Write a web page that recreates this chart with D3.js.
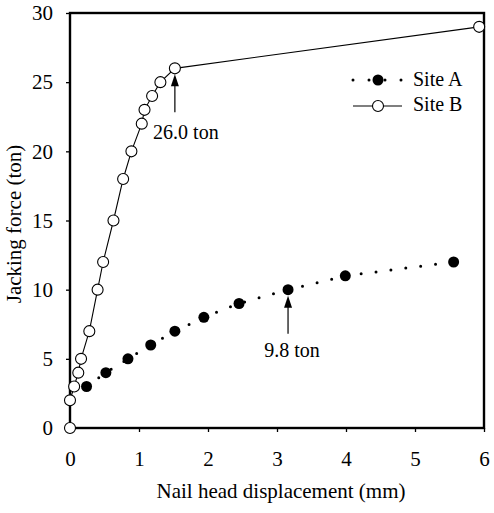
<!DOCTYPE html>
<html><head><meta charset="utf-8">
<script src="https://cdn.jsdelivr.net/npm/d3@7"></script>
<style>body{margin:0;background:#fff}svg text{font-family:"Liberation Serif","Times New Roman",serif;fill:#000}</style>
</head><body><svg id="c" width="494" height="513"></svg>
<script>
const siteA_x = [0.24, 0.52, 0.84, 1.17, 1.52, 1.94, 2.45, 3.16, 3.99, 5.56];
const siteA_y = [3, 4, 5, 6, 7, 8, 9, 10, 11, 12];
const siteB_x = [0, 0, 0.06, 0.12, 0.16, 0.28, 0.40, 0.48, 0.63, 0.77, 0.89, 1.04, 1.08, 1.19, 1.31, 1.52, 5.93];
const siteB_y = [0, 2, 3, 4, 5, 7, 10, 12, 15, 18, 20, 22, 23, 24, 25, 26, 29];
const xTicks = [0, 1, 2, 3, 4, 5, 6];
const yTicks = [0, 5, 10, 15, 20, 25, 30];
const annotations = [{x: 1.52, y: 26, label: "26.0 ton", dx: 11, dy: 71}, {x: 3.16, y: 10, label: "9.8 ton", dx: 4, dy: 67}];

const FONT = '"Liberation Serif","Times New Roman",serif';
const svg = d3.select("#c");
const L = 70, R = 484, T = 13, B = 428;
const x = d3.scaleLinear().domain([0, 6]).range([L, R]);
const y = d3.scaleLinear().domain([0, 30]).range([B, T]);

// axes
svg.append("g").attr("transform", `translate(0,${B})`)
  .call(d3.axisBottom(x).tickValues(xTicks).tickSize(4).tickPadding(19).tickFormat(d3.format("d")))
  .call(g => { g.select(".domain").remove(); g.selectAll("line").attr("stroke-width", 1.3);
               g.selectAll("text").attr("font-size", 21).attr("font-family", FONT); });
svg.append("g").attr("transform", `translate(${L},0)`)
  .call(d3.axisLeft(y).tickValues(yTicks).tickSize(4).tickPadding(13).tickFormat(d3.format("d")))
  .call(g => { g.select(".domain").remove(); g.selectAll("line").attr("stroke-width", 1.3);
               g.selectAll("text").attr("font-size", 21).attr("font-family", FONT); });

// frame
svg.append("rect").attr("x", L).attr("y", T).attr("width", R - L).attr("height", B - T)
  .attr("fill", "none").attr("stroke", "#000").attr("stroke-width", 2.4);

// titles
svg.append("text").attr("x", 281).attr("y", 498).attr("text-anchor", "middle")
  .attr("font-size", 21).attr("font-family", FONT).text("Nail head displacement (mm)");
svg.append("text").attr("transform", `translate(21,224) rotate(-90)`).attr("text-anchor", "middle")
  .attr("font-size", 21).attr("font-family", FONT).text("Jacking force (ton)");

const dataA = siteA_x.map((v, i) => [v, siteA_y[i]]);
const dataB = siteB_x.map((v, i) => [v, siteB_y[i]]);
const line = d3.line().x(d => x(d[0])).y(d => y(d[1]));

// Site A dotted
svg.append("path").datum(dataA).attr("d", line).attr("fill", "none").attr("stroke", "#000")
  .attr("stroke-width", 3).attr("stroke-linecap", "round").attr("stroke-dasharray", "0 15");
svg.append("g").selectAll("circle").data(dataA).join("circle")
  .attr("cx", d => x(d[0])).attr("cy", d => y(d[1])).attr("r", 5.5).attr("fill", "#000");

// Site B
svg.append("path").datum(dataB).attr("d", line).attr("fill", "none").attr("stroke", "#000").attr("stroke-width", 1.1);
svg.append("g").selectAll("circle").data(dataB).join("circle")
  .attr("cx", d => x(d[0])).attr("cy", d => y(d[1])).attr("r", 5.5).attr("fill", "#fff")
  .attr("stroke", "#000").attr("stroke-width", 1.1);

// annotations
const ann = svg.append("g");
annotations.forEach(a => {
  const ax = x(a.x), ay = y(a.y);
  ann.append("line").attr("x1", ax).attr("x2", ax).attr("y1", ay + 17).attr("y2", ay + 44)
    .attr("stroke", "#000").attr("stroke-width", 1.2);
  ann.append("path").attr("d", `M${ax},${ay + 6}L${ax - 4},${ay + 18}L${ax + 4},${ay + 18}Z`).attr("fill", "#000");
  ann.append("text").attr("x", ax + a.dx).attr("y", ay + a.dy).attr("text-anchor", "middle")
    .attr("font-size", 20).attr("font-family", FONT).text(a.label);
});

// legend
const lg = svg.append("g");
lg.append("line").attr("x1", 353).attr("x2", 402).attr("y1", 80).attr("y2", 80).attr("stroke", "#000")
  .attr("stroke-width", 3).attr("stroke-linecap", "round").attr("stroke-dasharray", "0 16");
lg.append("circle").attr("cx", 378).attr("cy", 80).attr("r", 5.5).attr("fill", "#000");
lg.append("text").attr("x", 413).attr("y", 86).attr("font-size", 20).attr("font-family", FONT).text("Site A");
lg.append("line").attr("x1", 353).attr("x2", 402).attr("y1", 106).attr("y2", 106).attr("stroke", "#000").attr("stroke-width", 1.1);
lg.append("circle").attr("cx", 378).attr("cy", 106).attr("r", 5.5).attr("fill", "#fff").attr("stroke", "#000").attr("stroke-width", 1.1);
lg.append("text").attr("x", 413).attr("y", 111).attr("font-size", 20).attr("font-family", FONT).text("Site B");
</script></body></html>
